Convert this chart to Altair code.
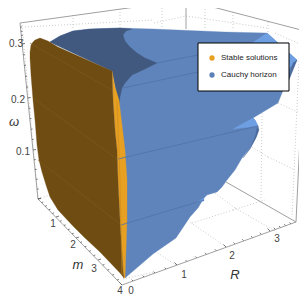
import altair as alt
import pandas as pd

# ---- surfaces (image-plane coordinates of the 3D projection)
blue_x = [50,60,73,90,120,154,225,267,277,297,290,282,278,253,255,258,257,250,242,235,227,222,217,207,204,198,190,176,153,125,122,120,118,112]
blue_y = [42,36,31,29,28,29,32,33,42,60,75,93,103,118,120,126,135,148,158,170,180,187,192,195,198,208,217,238,254,278,225,160,100,71]
dark_x = [50,60,73,90,120,132,126,123,125,130,137,145,157,143,132,125,122,120,119,112]
dark_y = [42,36,31,29,28,29,31,35,41,47,53,58,63,70,75,83,88,97,105,71]
brown_x = [112,113,115,117,118,120,123,124,120,100,85,72,58,50,46,42,39,37,35,33,31,30,30,31,33,35,40,48,58]
brown_y = [71,100,130,150,180,220,270,278,273,252,238,225,210,197,185,172,160,145,120,100,75,58,52,45,42,40,38,41,47]
orange_x = [112,115,119,122,125,127,127,126,125,124,123,120,118,117,115,113]
orange_y = [71,87,100,125,150,180,220,250,278,278,270,220,180,150,130,100]
light1_x = [267,277,297,289,289,252]
light1_y = [33,42,60,68,43,43]
light2_x = [233,253,255,258]
light2_y = [129,118,120,126]
light3_x = [197,204,204]
light3_y = [202,198,201]
side1_x = [297,293,287,289]
side1_y = [60,63,82,80]
side2_x = [258,259,256,250,243,250,255,257]
side2_y = [126,130,138,149,158,148,137,128]

# ---- mesh lines (x0, y0, x1, y1)
mesh_blue = [(157,63,198,55),(123,88,198,72),(118,159,258,126),(121,225,204,200)]
mesh_brown = [(30,43,112,90),(33,98,117,159),(38,160,120,224)]
mesh_orange = [(117,100,120,180),(120,180,122,275)]

# ---- box
box_edges = [(20,23,186,0),(186,0,305,31),(305,31,296,222),(296,222,226,182),(186,0,186,29),
             (20,23,38,199),(38,199,122,285),(122,285,296,222)]
grid_lines = [(25,27,154,20),(154,23,186,16),(186,16,267,28),(275,33,302,45),
              (73,15,73,30),(120,9,120,28),(162,5,162,28),(205,3,205,30),(233,12,233,30),(268,22,268,32),
              (278,103,298,112),(252,147,268,157),(268,157,295,170),(262,113,261,200),(300,40,292,217),
              (38,199,50,195),(123,279,154,272),(192,223,233,210),(233,210,265,200),
              (176,265,150,248),(215,193,235,208),(235,208,277,232),(226,247,190,222),(22,25,38,199)]

# ---- axes: major tick positions along each axis
m_majors = [(38,199),(56,217),(76,238),(98,260),(122,285)]
R_majors = [(122,285),(177,265),(226,247),(270,231),(296,222)]
w_majors = [(38,199),(33,150),(27.7,98),(22,44),(20,23)]

m_ticks_lbl = [("1",53,224),("2",73,245),("3",94,269),("4",120,291)]
R_ticks_lbl = [("0",131,291),("1",184,275),("2",232,256),("3",277,239)]
w_ticks_lbl = [("0.1",23,152),("0.2",18,100),("0.3",16,44)]

legend_labels = ["Stable solutions", "Cauchy horizon"]
legend_colors = ["#e8a020", "#5e81b5"]
legend_y = [58, 75]

W, H = 291, 288
X = alt.X("x:Q", axis=None, scale=alt.Scale(domain=[8, 8 + W], nice=False, zero=False))
Y = alt.Y("y:Q", axis=None, scale=alt.Scale(domain=[8 + H, 8], nice=False, zero=False))
X2 = alt.X2("x2:Q")
Y2 = alt.Y2("y2:Q")


def poly(xs, ys, color):
    df = pd.DataFrame({"x": xs + xs[:1], "y": ys + ys[:1], "i": range(len(xs) + 1)})
    return alt.Chart(df).mark_line(fill=color, stroke=color, strokeWidth=0.3).encode(
        x=X, y=Y, order=alt.Order("i:Q"))


def segs(lines, color, width, dash=None):
    df = pd.DataFrame(lines, columns=["x", "y", "x2", "y2"])
    kw = {"strokeDash": dash} if dash else {}
    return alt.Chart(df).mark_rule(color=color, strokeWidth=width, **kw).encode(x=X, y=Y, x2=X2, y2=Y2)


def ticks(majors, dx, dy, n=5):
    out = []
    for k in range(len(majors) - 1):
        (x0, y0), (x1, y1) = majors[k], majors[k + 1]
        for j in range(n):
            t = j / n
            px, py = x0 + (x1 - x0) * t, y0 + (y1 - y0) * t
            f = 1.0 if j == 0 else 0.55
            out.append((px, py, px + dx * f, py + dy * f))
    return out


def labels(items, size=10):
    df = pd.DataFrame(items, columns=["t", "x", "y"])
    return alt.Chart(df).mark_text(font="Liberation Sans", fontSize=size, color="#444444",
                                   align="center", baseline="middle").encode(x=X, y=Y, text="t:N")


legend_box = alt.Chart(pd.DataFrame({"x": [198], "x2": [289], "y": [43], "y2": [91]})).mark_rect(
    fill="white", stroke="black", strokeWidth=1).encode(x=X, y=Y, x2=X2, y2=Y2)
leg_df = pd.DataFrame({"x": [212, 212], "y": legend_y, "c": legend_colors, "t": legend_labels, "tx": [221, 221]})
legend_dots = alt.Chart(leg_df).mark_point(filled=True, size=28, opacity=1).encode(
    x=X, y=Y, color=alt.Color("c:N", scale=None))
legend_text = alt.Chart(leg_df).mark_text(font="Liberation Sans", fontSize=8, color="#222222",
                                          align="left", baseline="middle").encode(
    x=alt.X("tx:Q", axis=None, scale=alt.Scale(domain=[8, 8 + W], nice=False, zero=False)), y=Y, text="t:N")

sym = pd.DataFrame({"t": ["ω", "m", "R"], "x": [14, 78, 235], "y": [122, 265, 275]})
symbols = alt.Chart(sym).mark_text(font="Liberation Sans", fontSize=13, fontStyle="italic", color="#333333",
                                   align="center", baseline="middle").encode(x=X, y=Y, text="t:N")

chart = alt.layer(
    segs(grid_lines, "#bdbdbd", 0.8, [1, 2]),
    segs(box_edges, "#a0a0a0", 1.0),
    segs(ticks(m_majors, 3, -1), "#555555", 0.8),
    segs(ticks(R_majors, -2.5, -2.5), "#555555", 0.8),
    segs(ticks(w_majors, 3, -0.5), "#555555", 0.8),
    poly(blue_x, blue_y, "#5f84bb"),
    poly(dark_x, dark_y, "#41597f"),
    poly(light1_x, light1_y, "#6f9fe3"),
    poly(light2_x, light2_y, "#6f9fe3"),
    poly(light3_x, light3_y, "#6f9fe3"),
    poly(side1_x, side1_y, "#4a6a9c"),
    poly(side2_x, side2_y, "#4a6a9c"),
    poly(orange_x, orange_y, "#e8a022"),
    poly(brown_x, brown_y, "#6f4c12"),
    segs(mesh_blue, "#4e72a8", 0.8),
    segs(mesh_brown, "#7d5a1e", 0.6),
    segs(mesh_orange, "#c88a1c", 0.6),
    labels(m_ticks_lbl), labels(R_ticks_lbl), labels(w_ticks_lbl),
    symbols,
    legend_box, legend_dots, legend_text,
).properties(width=W, height=H, padding=0, autosize="none", background="white").configure_view(stroke=None)

chart.save("out.html", embed_options={"renderer": "svg", "actions": False})
